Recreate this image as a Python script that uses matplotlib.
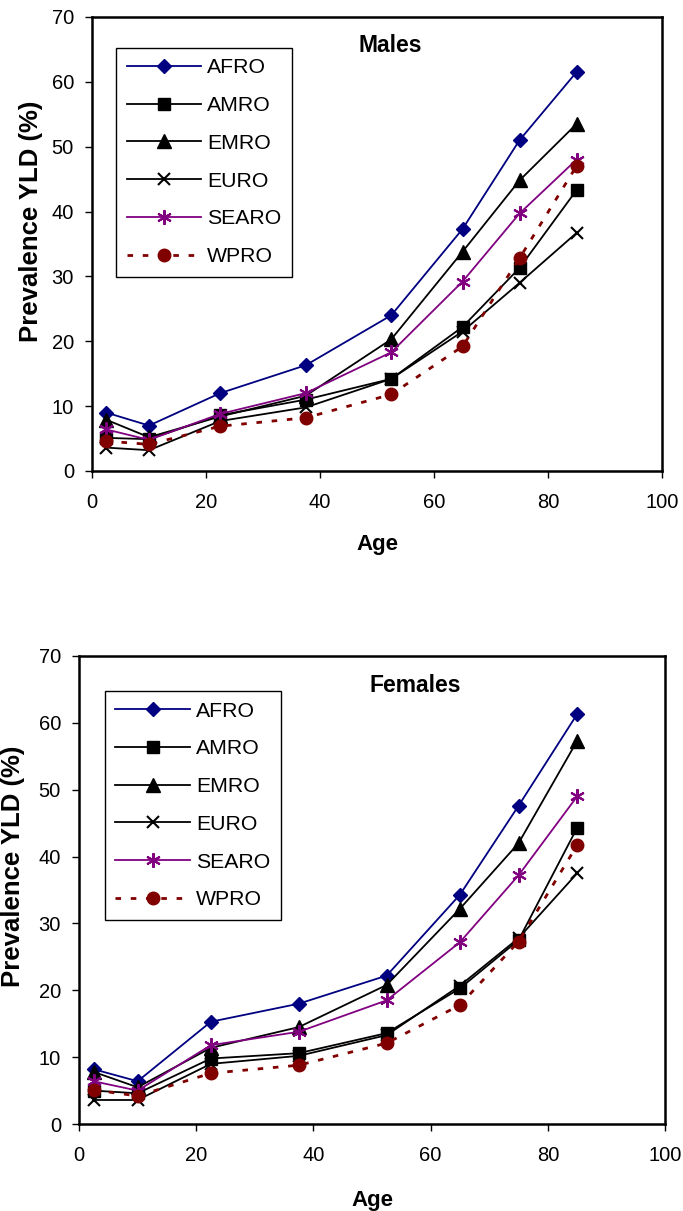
import numpy as np
import matplotlib
matplotlib.use('Agg')
import matplotlib.pyplot as plt

plt.rcParams['font.family'] = ['Liberation Sans', 'DejaVu Sans']

ages = [2.5, 10, 22.5, 37.5, 52.5, 65, 75, 85]
regions = ['AFRO', 'AMRO', 'EMRO', 'EURO', 'SEARO', 'WPRO']

males = {
	'AFRO':  [9.0, 7.0, 12.0, 16.3, 24.0, 37.3, 51.0, 61.5],
	'AMRO':  [5.1, 4.9, 8.6, 11.0, 14.2, 22.2, 31.3, 43.3],
	'EMRO':  [7.9, 5.2, 8.4, 11.6, 20.3, 33.8, 44.8, 53.5],
	'EURO':  [3.6, 3.2, 7.7, 9.8, 14.2, 21.5, 29.0, 36.7],
	'SEARO': [6.4, 4.8, 8.8, 12.0, 18.3, 29.2, 39.7, 48.0],
	'WPRO':  [4.6, 4.1, 6.9, 8.2, 11.8, 19.2, 32.8, 47.0],
}
females = {
	'AFRO':  [8.2, 6.4, 15.3, 18.0, 22.2, 34.3, 47.6, 61.3],
	'AMRO':  [5.0, 4.6, 9.8, 10.6, 13.6, 20.3, 27.5, 44.3],
	'EMRO':  [7.8, 5.5, 11.4, 14.5, 20.8, 32.2, 42.0, 57.3],
	'EURO':  [3.6, 3.6, 9.0, 10.2, 13.3, 20.7, 27.8, 37.5],
	'SEARO': [6.4, 5.0, 11.8, 13.8, 18.5, 27.2, 37.2, 49.0],
	'WPRO':  [5.1, 4.2, 7.6, 8.8, 12.1, 17.8, 27.3, 41.7],
}

styles = {
	'AFRO':  dict(color='#000080', marker='D', ms=7.5, ls='-', lw=1.3),
	'AMRO':  dict(color='black', marker='s', ms=8, ls='-', lw=1.3),
	'EMRO':  dict(color='black', marker='^', ms=9.5, ls='-', lw=1.3),
	'EURO':  dict(color='black', marker='x', ms=9, mew=1.5, ls='-', lw=1.3),
	'SEARO': dict(color='#800080', marker=(6, 2, 0), ms=10.5, mew=1.5, ls='-', lw=1.3),
	'WPRO':  dict(color='#800000', marker='o', ms=9, ls=(0, (2, 3.5)), lw=2),
}

fig = plt.figure(figsize=(6.83, 12.11), dpi=100)

# data, title, axes rect, legend anchor, title x, ylabel x
panels = [
	(males, 'Males', [0.1347, 0.6111, 0.8346, 0.3749], (0.042, 0.932), 0.523, -0.107),
	(females, 'Females', [0.1157, 0.0718, 0.8580, 0.3865], (0.044, 0.925), 0.573, -0.112),
]

for data, title, rect, leg_anchor, title_x, ylab_x in panels:
	ax = fig.add_axes(rect)
	for r in regions:
		ax.plot(ages, data[r], label=r, **styles[r])
	ax.set_xlim(0, 100)
	ax.set_ylim(0, 70)
	ax.set_xticks(np.arange(0, 101, 20))
	ax.set_yticks(np.arange(0, 71, 10))
	ax.tick_params(direction='out', length=5, width=1, labelsize=14.5)
	ax.tick_params(axis='y', pad=8)
	ax.tick_params(axis='x', pad=11)
	for s in ax.spines.values():
		s.set_linewidth(1.8)
	ax.text(0.5, -0.163, 'Age', transform=ax.transAxes, ha='center', va='center',
			fontsize=16, fontweight='bold')
	ax.text(ylab_x, 0.55, 'Prevalence YLD (%)', transform=ax.transAxes, rotation=90,
			ha='center', va='center', fontsize=18.5, fontweight='bold')
	ax.text(title_x, 0.937, title, transform=ax.transAxes, ha='center', va='center',
			fontsize=16.5, fontweight='bold')
	leg = ax.legend(loc='upper left', bbox_to_anchor=leg_anchor, borderaxespad=0,
					fontsize=15.3, fancybox=False, edgecolor='black', framealpha=1,
					handlelength=3.5, labelspacing=0.88, borderpad=0.5, handletextpad=0.3)
	leg.get_frame().set_linewidth(1)

plt.savefig('out.png', dpi=100)
